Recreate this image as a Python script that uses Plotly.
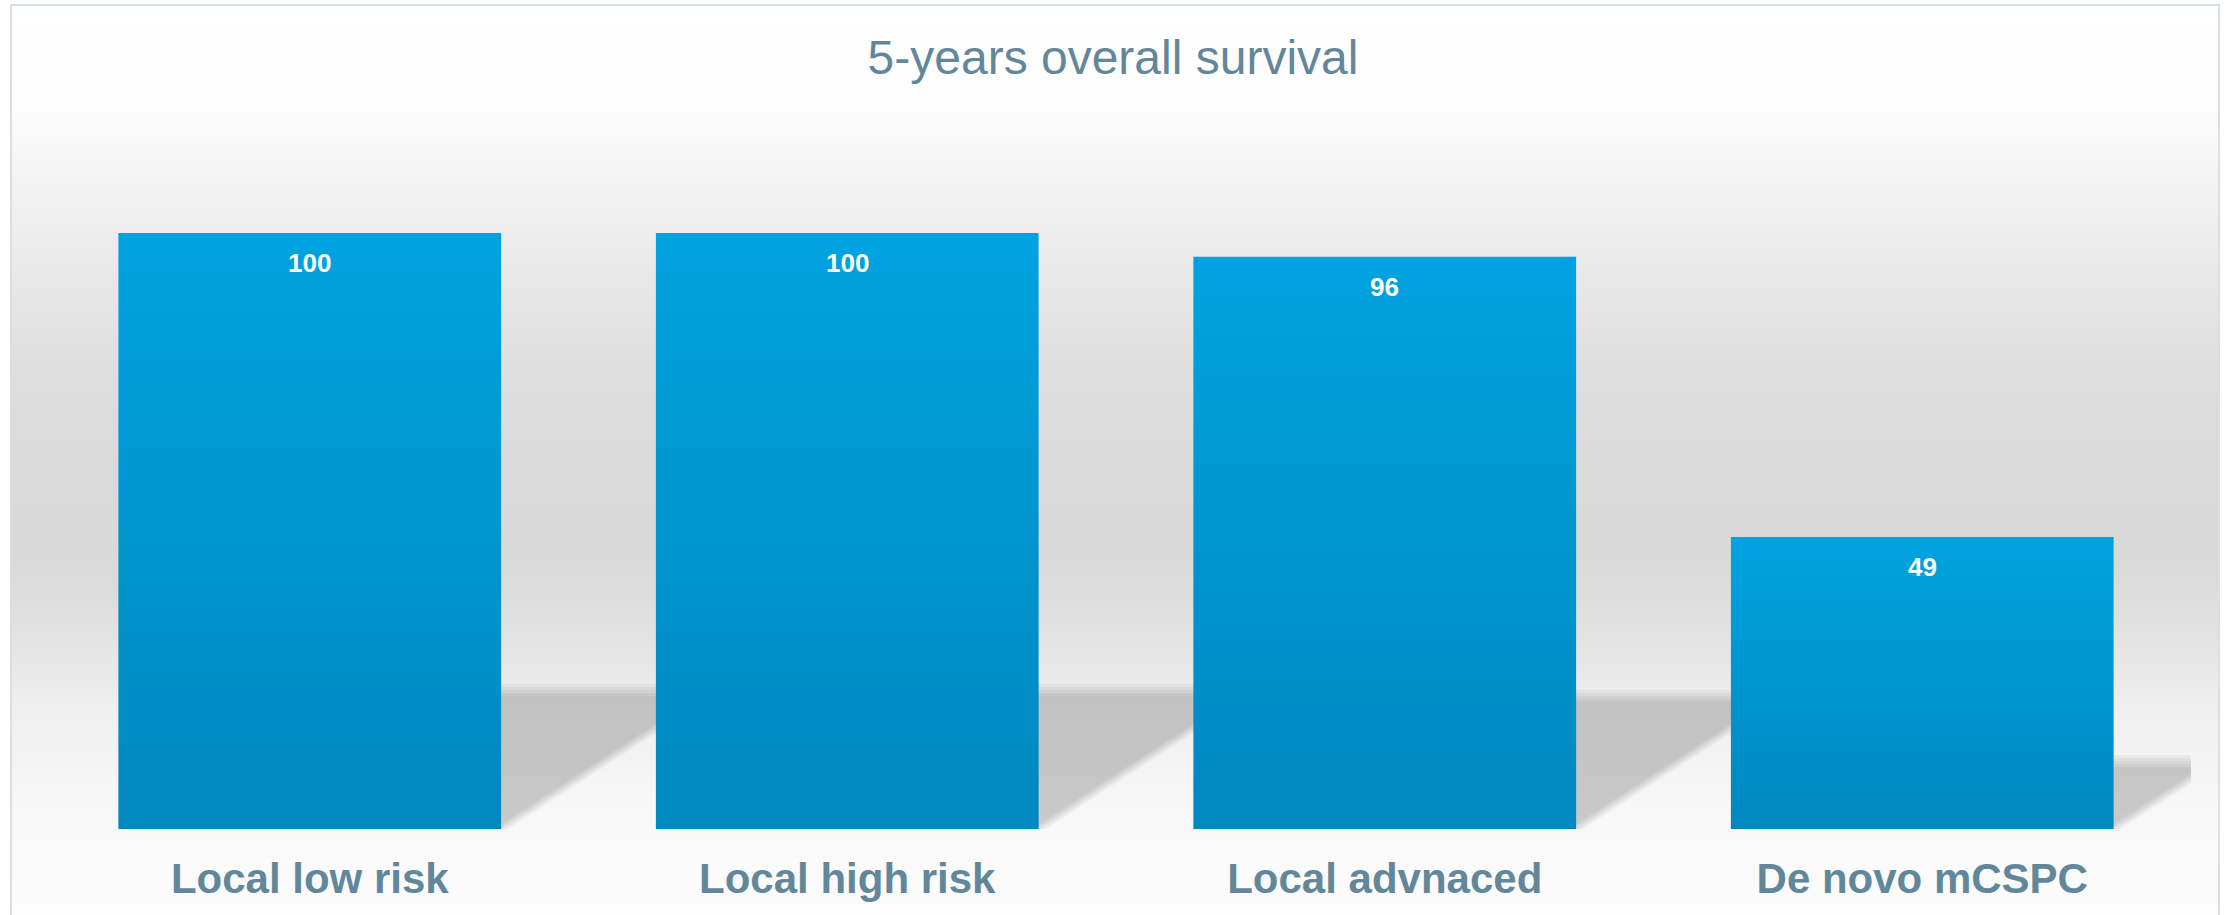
import zlib, struct, base64
import plotly.graph_objects as go

# ---------------- data ----------------
categories = ["Local low risk", "Local high risk", "Local advnaced", "De novo mCSPC"]
survival_5y = [100, 100, 96, 49]
title_text = "5-years overall survival"

# ---------------- style ----------------
W, H = 2226, 915
ML, MR, MT, MB = 41, 35, 100, 86
PW, PH = W - ML - MR, H - MT - MB
Y_MAX = 122.3
BAR_W = 0.712
TEXT_COLOR = "#63879A"
BAR_TOP = "#00A3E0"
FONT = "Liberation Sans, Arial, sans-serif"

PPC = PW / len(categories)   # px per category
PPU = PH / Y_MAX             # px per y unit


def px_x(X):                 # figure pixel -> paper x
    return (X - ML) / PW


def px_y(Y):                 # figure pixel -> paper y
    return (H - MB - Y) / PH


def png_uri(width, rows, alpha=False):
    ctype = 6 if alpha else 2
    raw = b"".join(b"\x00" + bytes(r) for r in rows)

    def chunk(t, d):
        return struct.pack(">I", len(d)) + t + d + struct.pack(">I", zlib.crc32(t + d) & 0xFFFFFFFF)

    data = (b"\x89PNG\r\n\x1a\n"
            + chunk(b"IHDR", struct.pack(">IIBBBBB", width, len(rows), 8, ctype, 0, 0, 0))
            + chunk(b"IDAT", zlib.compress(raw))
            + chunk(b"IEND", b""))
    return "data:image/png;base64," + base64.b64encode(data).decode()


def interp(stops, y):
    for (y0, c0), (y1, c1) in zip(stops, stops[1:]):
        if y0 <= y <= y1:
            t = (y - y0) / (y1 - y0) if y1 > y0 else 0
            return round(c0 + (c1 - c0) * t)
    return stops[-1][1]


# background gradient (screen y -> grey level)
bg_stops = [(0, 255), (100, 253), (200, 241), (300, 229), (350, 224), (450, 218),
            (560, 217), (640, 227), (700, 238), (800, 247), (915, 252)]
BG_TOP, BG_BOT = 6, H
bg_rows = []
for yy in range(BG_TOP, BG_BOT):
    g = interp(bg_stops, yy)
    bg_rows.append([g, g, g, g, g, g])
bg_uri = png_uri(2, bg_rows)

# bar shading overlay (transparent at top, darker at bottom)
ov_rows = []
N = 128
for r in range(N):
    a = round(51 * r / (N - 1))
    ov_rows.append([0, 28, 59, a, 0, 28, 59, a])
ov_uri = png_uri(2, ov_rows, alpha=True)

fig = go.Figure()
fig.add_trace(go.Bar(
    x=categories, y=survival_5y, width=BAR_W,
    marker=dict(color=BAR_TOP, line=dict(width=0)),
    hoverinfo="skip", showlegend=False,
))

images = [dict(
    source=bg_uri, xref="paper", yref="paper",
    x=px_x(12), y=px_y(BG_TOP),
    sizex=(2218 - 12) / PW, sizey=(BG_BOT - BG_TOP) / PH,
    xanchor="left", yanchor="top", sizing="stretch", layer="below",
)]
for i, v in enumerate(survival_5y):
    images.append(dict(
        source=ov_uri, xref="x", yref="y", x=i, y=v,
        sizex=BAR_W, sizey=v, xanchor="center", yanchor="top",
        sizing="stretch", layer="above",
    ))

# soft cast shadows (derived from the bar values)
SHADOW_RATIO, SLOPE = 0.233, 0.65
shapes = []
for i, v in enumerate(survival_5y):
    xr = i + BAR_W / 2
    hpx = SHADOW_RATIO * v * PPU
    for d in (-6, -3, 0, 3, 6):
        hk = hpx + d
        sk = d * 1.2
        top_y = hk / PPU
        x_top = xr + (sk + hk / SLOPE) / PPC
        x_bot = xr + sk / PPC
        shapes.append(dict(
            type="path", xref="x", yref="y", layer="below",
            path=f"M {i},0 L {i},{top_y:.3f} L {x_top:.4f},{top_y:.3f} L {x_bot:.4f},0 Z",
            fillcolor="rgba(0,0,0,0.038)", line=dict(width=0),
        ))

# outer frame
shapes.append(dict(
    type="rect", xref="paper", yref="paper",
    x0=px_x(11), x1=px_x(2219), y0=px_y(H + 10), y1=px_y(5),
    line=dict(color="#D8E0E6", width=2), fillcolor="rgba(0,0,0,0)", layer="above",
))

annotations = []
for c, v in zip(categories, survival_5y):
    annotations.append(dict(
        x=c, y=v, xref="x", yref="y", text=str(v), showarrow=False,
        yanchor="top", yshift=-13,
        font=dict(family=FONT, size=26, color="white", weight="bold"),
    ))

fig.update_layout(
    width=W, height=H,
    margin=dict(l=ML, r=MR, t=MT, b=MB, autoexpand=False),
    paper_bgcolor="white", plot_bgcolor="rgba(0,0,0,0)",
    title=dict(text=title_text, x=0.5, xanchor="center", xref="container",
               y=1 - 57 / H, yanchor="middle", yref="container",
               font=dict(family=FONT, size=48, color=TEXT_COLOR)),
    xaxis=dict(range=[-0.5, len(categories) - 0.5], showgrid=False, zeroline=False,
               showline=False, ticks="", ticklabelstandoff=21, automargin=False,
               tickfont=dict(family=FONT, size=42, color=TEXT_COLOR, weight="bold")),
    yaxis=dict(range=[0, Y_MAX], visible=False, showgrid=False, zeroline=False,
               automargin=False),
    images=images, shapes=shapes, annotations=annotations,
    showlegend=False,
)

fig.write_html(
    "out.html",
    config={"displayModeBar": False},
    post_script="document.body.style.margin='0';document.body.style.overflow='hidden';",
)
